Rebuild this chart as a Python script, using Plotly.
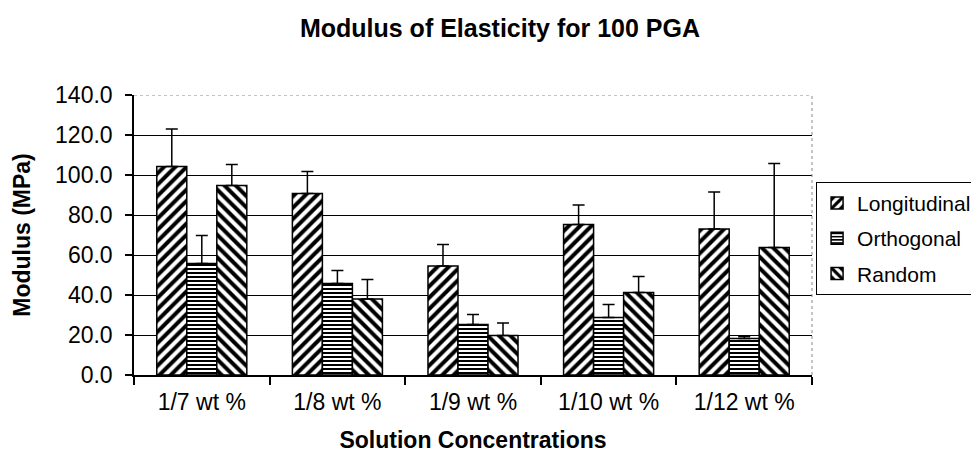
import plotly.graph_objects as go

categories = ["1/7 wt %", "1/8 wt %", "1/9 wt %", "1/10 wt %", "1/12 wt %"]
series_names = ["Longitudinal", "Orthogonal", "Random"]
longitudinal = [104.3, 90.8, 54.5, 75.2, 73.0]
longitudinal_err = [18.7, 11.0, 10.7, 9.8, 18.5]
orthogonal = [55.7, 45.7, 25.2, 28.7, 18.2]
orthogonal_err = [14.0, 6.5, 5.1, 6.5, 1.1]
random_ = [94.7, 38.0, 19.7, 41.3, 63.8]
random_err = [10.5, 9.7, 6.3, 7.9, 41.9]
y_ticks = [0, 20, 40, 60, 80, 100, 120, 140]

values = [longitudinal, orthogonal, random_]
errors = [longitudinal_err, orthogonal_err, random_err]
patterns = [("/", 8), ("-", 4), ("\\", 8)]

FONT = "Liberation Sans, Arial, sans-serif"

fig = go.Figure()
for name, vals, errs, (pat, psize) in zip(series_names, values, errors, patterns):
    fig.add_trace(go.Bar(
        name=name, x=categories, y=vals, legendgroup=name,
        marker=dict(color="white", line=dict(color="black", width=1.5),
                    pattern=dict(shape=pat, fgcolor="black", bgcolor="white",
                                 size=psize, solidity=0.5, fgopacity=1)),
        error_y=dict(type="data", symmetric=False, array=errs,
                     arrayminus=[0] * len(errs), color="black",
                     thickness=1.5, width=6),
    ))

shapes = [
    dict(type="line", xref="paper", yref="y", x0=0, x1=1, y0=y_ticks[-1], y1=y_ticks[-1],
         line=dict(color="white", width=2), layer="above"),
    dict(type="line", xref="paper", yref="y", x0=0, x1=1, y0=y_ticks[-1], y1=y_ticks[-1],
         line=dict(color="#888888", width=1, dash="dot"), layer="above"),
    dict(type="line", xref="paper", yref="paper", x0=1, x1=1, y0=0, y1=1,
         line=dict(color="#888888", width=1, dash="dot"), layer="above"),
]

fig.update_layout(
    width=979, height=454,
    paper_bgcolor="white", plot_bgcolor="white",
    margin=dict(l=126, r=175, t=87, b=87, autoexpand=False),
    barmode="group", bargap=0.336, bargroupgap=0,
    font=dict(family=FONT, color="black", size=23),
    title=dict(text="<b>Modulus of Elasticity for 100 PGA</b>", x=0.5025, xanchor="center",
               y=0.955, yanchor="middle", font=dict(size=25, family=FONT, color="black")),
    xaxis=dict(showline=True, linecolor="black", linewidth=1.5, ticks="outside",
               tickson="boundaries", ticklen=8, tickcolor="black", tickwidth=1.5,
               tickfont=dict(size=23), ticklabelstandoff=6,
               title=dict(text="<b>Solution Concentrations</b>", font=dict(size=23), standoff=18)),
    yaxis=dict(range=[0, 140], tickvals=y_ticks, tickformat=".1f",
               showline=True, linecolor="black", linewidth=1.5, ticks="outside",
               ticklen=7, tickcolor="black", tickwidth=1.5, ticklabelstandoff=8,
               showgrid=True, gridcolor="black", gridwidth=1,
               zeroline=False, tickfont=dict(size=23),
               title=dict(text="<b>Modulus (MPa)</b>", font=dict(size=23), standoff=18)),
    legend=dict(x=1.006, y=0.69, xanchor="left", yanchor="top",
                bordercolor="black", borderwidth=1, bgcolor="white",
                font=dict(size=21), tracegroupgap=5, itemwidth=30),
    shapes=shapes,
)

fig.write_html("out.html")
